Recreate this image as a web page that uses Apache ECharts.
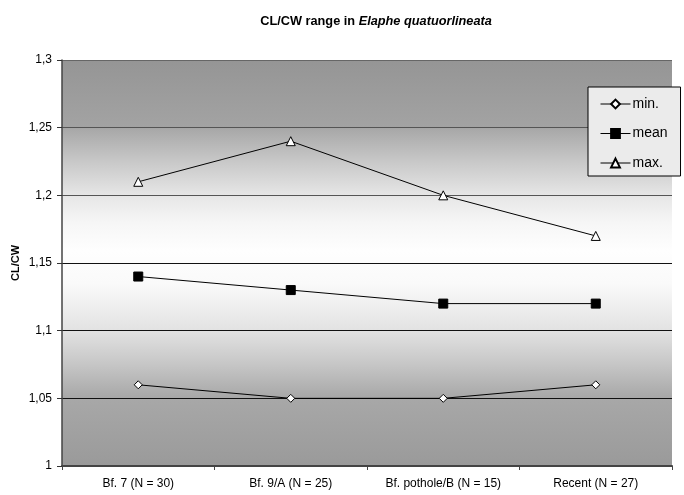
<!DOCTYPE html>
<html><head><meta charset="utf-8">
<script src="https://cdn.jsdelivr.net/npm/echarts@6/dist/echarts.min.js"></script>
<style>html,body{margin:0;padding:0;background:#fff}#c{width:684px;height:495px}</style>
</head><body><div id="c"></div>
<script>
const categories = ['Bf. 7 (N = 30)', 'Bf. 9/A (N = 25)', 'Bf. pothole/B (N = 15)', 'Recent (N = 27)'];
const minValues = [1.06, 1.05, 1.05, 1.06];
const meanValues = [1.14, 1.13, 1.12, 1.12];
const maxValues = [1.21, 1.24, 1.20, 1.17];
const yTicks = {min: 1, max: 1.3, interval: 0.05};
const yAxisTitle = 'CL/CW';

const chart = echarts.init(document.getElementById('c'), null, {renderer: 'canvas'});
const font = 'Arial, "Liberation Sans", sans-serif';
const mk = (name, data, symbol, size, fill) => ({
  name, type: 'line', data, symbol, symbolSize: size, showSymbol: true,
  lineStyle: {color: '#000', width: 1},
  itemStyle: {color: fill, borderColor: '#000', borderWidth: 1},
  emphasis: {disabled: true}, animation: false
});
chart.setOption({
  animation: false,
  title: {
    text: '{b|CL/CW range in }{bi|Elaphe quatuorlineata}',
    left: 371, top: 10, textAlign: 'center',
    textStyle: {rich: {
      b: {fontFamily: font, fontWeight: 'bold', fontSize: 12.75, color: '#000'},
      bi: {fontFamily: font, fontWeight: 'bold', fontStyle: 'italic', fontSize: 12.75, color: '#000'}
    }}
  },
  graphic: [{
    type: 'text', x: 16, y: 263, rotation: Math.PI / 2, silent: true,
    style: {text: yAxisTitle, align: 'center', verticalAlign: 'middle',
      font: 'bold 11px Arial, "Liberation Sans", sans-serif', fill: '#000'}
  }],
  grid: {
    left: 62, right: 12, top: 60, bottom: 29, show: true, borderWidth: 0,
    outerBoundsMode: 'none', containLabel: false,
    backgroundColor: {type: 'linear', x: 0, y: 0, x2: 0, y2: 1, colorStops: [
      {offset: 0, color: '#959595'}, {offset: 0.166, color: '#a3a3a3'},
      {offset: 0.17, color: '#a8a8a8'}, {offset: 0.25, color: '#c8c8c8'},
      {offset: 0.333, color: '#e6e6e6'}, {offset: 0.4, color: '#f6f6f6'},
      {offset: 0.47, color: '#fefefe'}, {offset: 0.55, color: '#fafafa'},
      {offset: 0.667, color: '#e2e2e2'}, {offset: 0.75, color: '#c6c6c6'},
      {offset: 0.83, color: '#a8a8a8'}, {offset: 1, color: '#9a9a9a'}]}
  },
  legend: {
    orient: 'vertical', left: 588, top: 87,
    padding: [10, 13, 6, 12], itemGap: 15.5, itemWidth: 30, itemHeight: 11,
    backgroundColor: '#ebebeb', borderColor: '#000', borderWidth: 1,
    lineStyle: {width: 1},
    textStyle: {fontFamily: font, fontSize: 14, lineHeight: 12, color: '#000', padding: [0, 0, 0, -3]},
    data: ['min.', 'mean', 'max.']
  },
  xAxis: {
    type: 'category', data: categories, boundaryGap: true,
    axisLine: {lineStyle: {color: '#444', width: 2}},
    axisTick: {show: true, length: 4, lineStyle: {color: '#444'}},
    axisLabel: {fontFamily: font, fontSize: 12, color: '#000', margin: 12}
  },
  yAxis: {
    type: 'value', min: yTicks.min, max: yTicks.max, interval: yTicks.interval,
    axisLine: {show: true, lineStyle: {color: '#444', width: 1.5}},
    axisTick: {show: true, length: 5, lineStyle: {color: '#333'}},
    axisLabel: {fontFamily: font, fontSize: 12, color: '#000', margin: 10,
      formatter: v => String(Math.round(v * 100) / 100).replace('.', ',')},
    splitLine: {show: true, lineStyle: {color: ['#222', '#111', '#111', '#111', '#555', '#555', '#666'], width: 1}}
  },
  series: [
    mk('min.', minValues, 'diamond', 8, '#fff'),
    mk('mean', meanValues, 'rect', 9, '#000'),
    mk('max.', maxValues, 'triangle', 9, '#fff')
  ]
});
</script></body></html>
